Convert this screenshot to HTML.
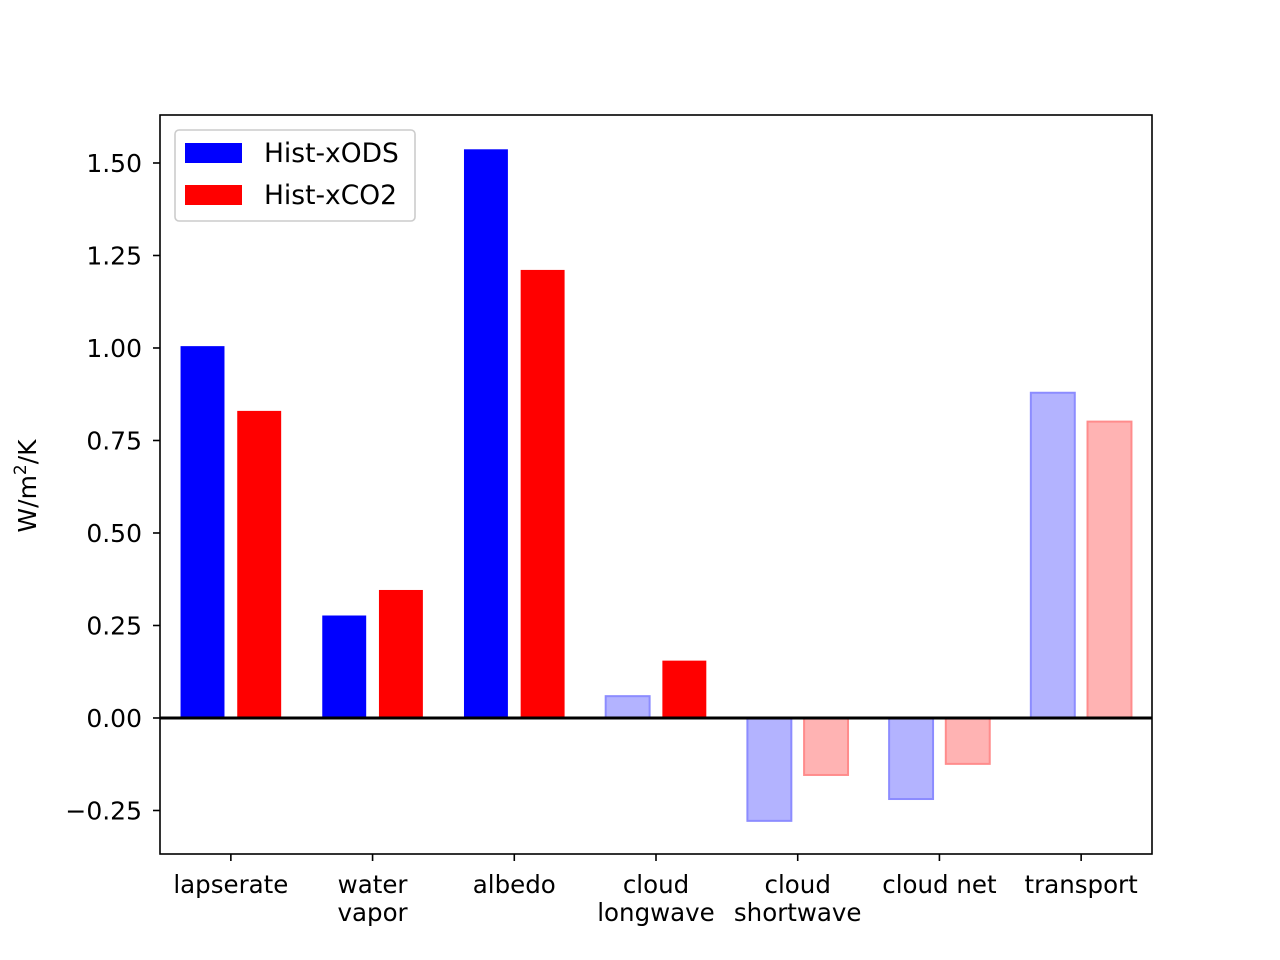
<!DOCTYPE html>
<html><head><meta charset="utf-8"><style>
html,body{margin:0;padding:0;background:#fff}
svg{display:block;font-family:"DejaVu Sans","Liberation Sans",sans-serif}
</style></head><body>
<svg id="chart" width="1280" height="960" xmlns="http://www.w3.org/2000/svg">
<rect x="0" y="0" width="1280" height="960" fill="#fff"/>
<g id="marks"></g>
<g id="axes"></g>
</svg>
<script>
const categories = [["lapserate"],["water","vapor"],["albedo"],["cloud","longwave"],["cloud","shortwave"],["cloud net"],["transport"]];
const odsValues = [1.005, 0.277, 1.537, 0.059, -0.278, -0.219, 0.879];
const co2Values = [0.830, 0.346, 1.211, 0.155, -0.154, -0.124, 0.801];
const odsFaded = [false, false, false, true, true, true, true];
const co2Faded = [false, false, false, false, true, true, true];
const yTicks = [-0.25, 0, 0.25, 0.5, 0.75, 1.0, 1.25, 1.5];
const yTickLabels = ["\u22120.25","0.00","0.25","0.50","0.75","1.00","1.25","1.50"];
const seriesNames = ["Hist-xODS","Hist-xCO2"];

const L=160,R=1152,T=115,B=854;
const xMin=-0.5,xMax=6.5,yMin=-0.3676,yMax=1.6297;
const xs=v=>L+(v-xMin)/(xMax-xMin)*(R-L);
const ys=v=>B-(v-yMin)/(yMax-yMin)*(B-T);
const NS="http://www.w3.org/2000/svg";
function mk(tag,attrs,parent){const e=document.createElementNS(NS,tag);for(const k in attrs)e.setAttribute(k,attrs[k]);parent.appendChild(e);return e;}
const marks=document.getElementById('marks'),axes=document.getElementById('axes');
const bw=0.31;
[[odsValues,odsFaded],[co2Values,co2Faded]].forEach(([vals,fd],si)=>{
  vals.forEach((v,i)=>{
    const off=si===0?-0.2:0.2;
    const x0=xs(i+off-bw/2),x1=xs(i+off+bw/2);
    const y0=ys(Math.max(v,0)),y1=ys(Math.min(v,0));
    const f=fd[i];
    const fill=si===0?(f?"#b3b3ff":"#0000ff"):(f?"#ffb3b3":"#ff0000");
    const stroke=si===0?"#8c8cff":"#ff8c8c";
    const r=mk('rect',{x:x0,y:y0,width:x1-x0,height:y1-y0,fill:fill,stroke:f?stroke:"none","stroke-width":f?2:0},marks);
    
    
  });
});
let z=mk('line',{x1:L,x2:R,y1:ys(0),y2:ys(0),stroke:"#000","stroke-width":3},axes);


let fr=mk('rect',{x:L,y:T,width:R-L,height:B-T,fill:"none",stroke:"#000","stroke-width":1.6},axes);


yTicks.forEach((t,i)=>{
  const y=ys(t);
  const tk=mk('line',{x1:L-7,x2:L,y1:y,y2:y,stroke:"#000","stroke-width":1.6},axes);
  
  
  const tx=mk('text',{x:L-18,y:y+9,"text-anchor":"end","font-size":25},axes);
  tx.textContent=yTickLabels[i];
  
  
});
categories.forEach((c,i)=>{
  const x=xs(i);
  const tk=mk('line',{x1:x,x2:x,y1:B,y2:B+7,stroke:"#000","stroke-width":1.6},axes);
  
  
  c.forEach((line,j)=>{
    const tx=mk('text',{x:x,y:B+39+j*28,"text-anchor":"middle","font-size":24.5},axes);
    tx.textContent=line;
    
    
  });
});
const yl=mk('text',{x:0,y:0,"text-anchor":"middle","font-size":25,transform:"translate(36,486) rotate(-90)"},axes);
yl.innerHTML='W/m<tspan dy="-10" font-size="17">2</tspan><tspan dy="10">/K</tspan>';


const lg=mk('g',{},axes);


mk('rect',{x:175,y:130,width:240,height:91,rx:4,fill:"#fff",stroke:"#ccc","stroke-width":1.6},lg);
["#0000ff","#ff0000"].forEach((col,i)=>{
  const p=mk('rect',{x:185,y:143+i*42,width:57,height:20,fill:col},lg);
  
  
  const t=mk('text',{x:264,y:162+i*42,"font-size":26.5},lg);
  t.textContent=seriesNames[i];
  
  
});
</script>
</body></html>
